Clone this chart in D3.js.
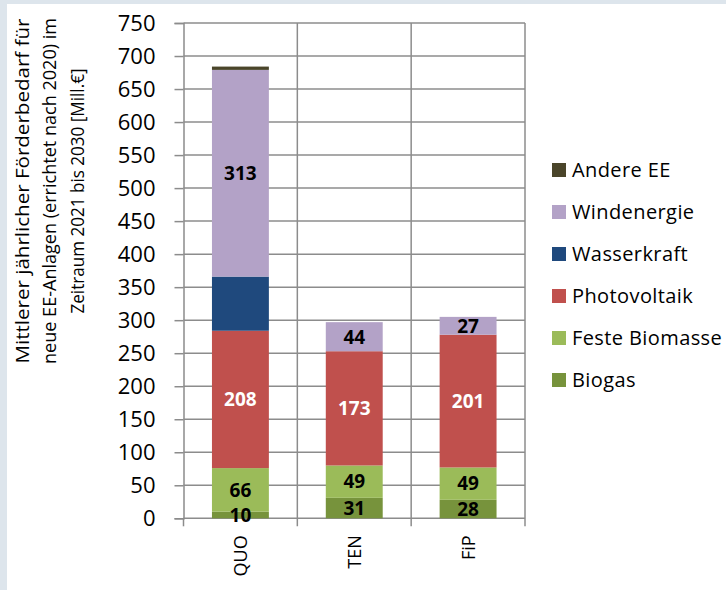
<!DOCTYPE html>
<html lang="de">
<head>
    <meta charset="UTF-8">
    <title>Förderbedarf EE-Anlagen</title>
    <script src="https://d3js.org/d3.v7.min.js"></script>
    <style>
        body {
            margin: 0;
            background: #ffffff;
        }
        text {
            font-family: "Open Sans", sans-serif;
        }
    </style>
</head>
<body>
<div id="my_dataviz"></div>

<script>

    // data
    var scenarios = ["QUO", "TEN", "FiP"];
    var seriesNames = ["Biogas", "Feste Biomasse", "Photovoltaik", "Wasserkraft", "Windenergie", "Andere EE"];
    var biogas = [10, 31, 28];
    var festeBiomasse = [66, 49, 49];
    var photovoltaik = [208, 173, 201];
    var wasserkraft = [82, 0, 0];
    var windenergie = [313, 44, 27];
    var andereEE = [5, 0, 0];
    var yTicks = [0, 50, 100, 150, 200, 250, 300, 350, 400, 450, 500, 550, 600, 650, 700, 750];
    var titleLines = ["Mittlerer jährlicher Förderbedarf für",
                      "neue EE-Anlagen (errichtet nach 2020) im",
                      "Zeitraum 2021 bis 2030 [Mill.€]"];
    // length of each title line in the picture, px
    var titleLengths = [345, 346, 245];

    // which segments get a label, and in which colour
    var labelShown = {"Biogas": true, "Feste Biomasse": true, "Photovoltaik": true,
                      "Wasserkraft": false, "Windenergie": true, "Andere EE": false};
    var labelColor = {"Photovoltaik": "#ffffff"};

    var colors = d3.scaleOrdinal()
        .domain(seriesNames)
        .range(["#77933c", "#9bbb59", "#c0504d", "#1f497d", "#b3a2c7", "#4a452a"]);

    var valuesBySeries = [biogas, festeBiomasse, photovoltaik, wasserkraft, windenergie, andereEE];
    var table = scenarios.map(function (s, i) {
        var row = {scenario: s};
        seriesNames.forEach(function (n, k) { row[n] = valuesBySeries[k][i]; });
        return row;
    });

    var W = 726, H = 590;
    var margin = {left: 183.5, right: 201, top: 23, bottom: 71.7};
    var width = W - margin.left - margin.right,
        height = H - margin.top - margin.bottom;

    var root = d3.select("#my_dataviz")
        .append("svg")
        .attr("width", W)
        .attr("height", H);

    // light frame at top and left edge
    root.append("rect").attr("x", 0).attr("y", 0).attr("width", W).attr("height", 4).attr("fill", "#dde5ec");
    root.append("rect").attr("x", 0).attr("y", 0).attr("width", 7).attr("height", H).attr("fill", "#dde5ec");

    var svg = root.append("g")
        .attr("transform", "translate(" + margin.left + "," + margin.top + ")");

    var x = d3.scaleBand()
        .domain(scenarios)
        .range([0, width])
        .paddingInner(0)
        .paddingOuter(0);

    var y = d3.scaleLinear()
        .domain([0, 750])
        .range([height, 0]);

    // horizontal grid
    svg.append("g")
        .selectAll("line")
        .data(yTicks)
        .join("line")
        .attr("x1", 0)
        .attr("x2", width)
        .attr("y1", function (d) { return y(d); })
        .attr("y2", function (d) { return y(d); })
        .attr("stroke", "#8c8c8c")
        .attr("stroke-width", 1.5);

    // vertical separators between categories (and right border)
    var seps = scenarios.map(function (s) { return x(s) + x.bandwidth(); });
    svg.append("g")
        .selectAll("line")
        .data(seps)
        .join("line")
        .attr("x1", function (d) { return d; })
        .attr("x2", function (d) { return d; })
        .attr("y1", 0)
        .attr("y2", height + 8)
        .attr("stroke", "#8c8c8c")
        .attr("stroke-width", 1.5);

    // stacked bars
    var stacked = d3.stack().keys(seriesNames)(table);
    var barW = x.bandwidth() * 0.5;

    var layers = svg.append("g")
        .selectAll("g")
        .data(stacked)
        .join("g")
        .attr("fill", function (d) { return colors(d.key); });

    layers.selectAll("rect")
        .data(function (d) { return d; })
        .join("rect")
        .attr("x", function (d) { return x(d.data.scenario) + (x.bandwidth() - barW) / 2; })
        .attr("y", function (d) { return y(d[1]); })
        .attr("width", barW)
        .attr("height", function (d) { return y(d[0]) - y(d[1]); });

    // value labels
    stacked.forEach(function (layer) {
        if (!labelShown[layer.key]) return;
        svg.append("g")
            .selectAll("text")
            .data(layer.filter(function (d) { return d[1] - d[0] > 0; }))
            .join("text")
            .attr("x", function (d) { return x(d.data.scenario) + x.bandwidth() / 2; })
            .attr("y", function (d) { return (y(d[0]) + y(d[1])) / 2; })
            .attr("dy", "0.36em")
            .attr("text-anchor", "middle")
            .style("font-size", "19px")
            .style("font-weight", "bold")
            .attr("fill", labelColor[layer.key] || "#000000")
            .text(function (d) { return d[1] - d[0]; });
    });

    // y axis
    var yAxis = svg.append("g")
        .call(d3.axisLeft(y).tickValues(yTicks).tickSize(9).tickPadding(19));
    yAxis.select(".domain").attr("stroke", "#8c8c8c").attr("stroke-width", 1.5);
    yAxis.selectAll(".tick line").attr("stroke", "#8c8c8c").attr("stroke-width", 1.5);
    yAxis.selectAll(".tick text")
        .attr("fill", "#000000")
        .style("font-size", "22px")
        .style("font-family", "'Open Sans', sans-serif");

    // the axis domain has to run down to the tick stub as well
    svg.append("line")
        .attr("x1", 0).attr("x2", 0)
        .attr("y1", height).attr("y2", height + 8)
        .attr("stroke", "#8c8c8c").attr("stroke-width", 1.5);

    // category labels, rotated
    svg.append("g")
        .selectAll("text")
        .data(scenarios)
        .join("text")
        .attr("transform", function (d) {
            return "translate(" + (x(d) + x.bandwidth() / 2) + "," + (height + 17) + ") rotate(-90)";
        })
        .attr("text-anchor", "end")
        .attr("dy", "0.36em")
        .style("font-size", "18px")
        .attr("fill", "#000000")
        .text(function (d) { return d; });

    // y axis title, one text per line so each can be fitted to its length
    root.append("g")
        .selectAll("text")
        .data(titleLines)
        .join("text")
        .attr("transform", function (d, i) {
            return "translate(" + (22 + i * 27.5) + ",191) rotate(-90)";
        })
        .attr("text-anchor", "middle")
        .attr("dy", "0.36em")
        .attr("textLength", function (d, i) { return titleLengths[i]; })
        .attr("lengthAdjust", "spacingAndGlyphs")
        .style("font-size", "19px")
        .attr("fill", "#000000")
        .text(function (d) { return d; });

    // legend, top entry is the top of the stack
    var legendItems = seriesNames.slice().reverse();
    var legend = root.append("g")
        .attr("transform", "translate(552,163)");
    var item = legend.selectAll("g")
        .data(legendItems)
        .join("g")
        .attr("transform", function (d, i) { return "translate(0," + (i * 42) + ")"; });
    item.append("rect")
        .attr("width", 14)
        .attr("height", 14)
        .attr("fill", function (d) { return colors(d); });
    item.append("text")
        .attr("x", 20)
        .attr("y", 7)
        .attr("dy", "0.36em")
        .style("font-size", "20px")
        .style("letter-spacing", "0.4px")
        .attr("fill", "#000000")
        .text(function (d) { return d; });

</script>
</body>
</html>
